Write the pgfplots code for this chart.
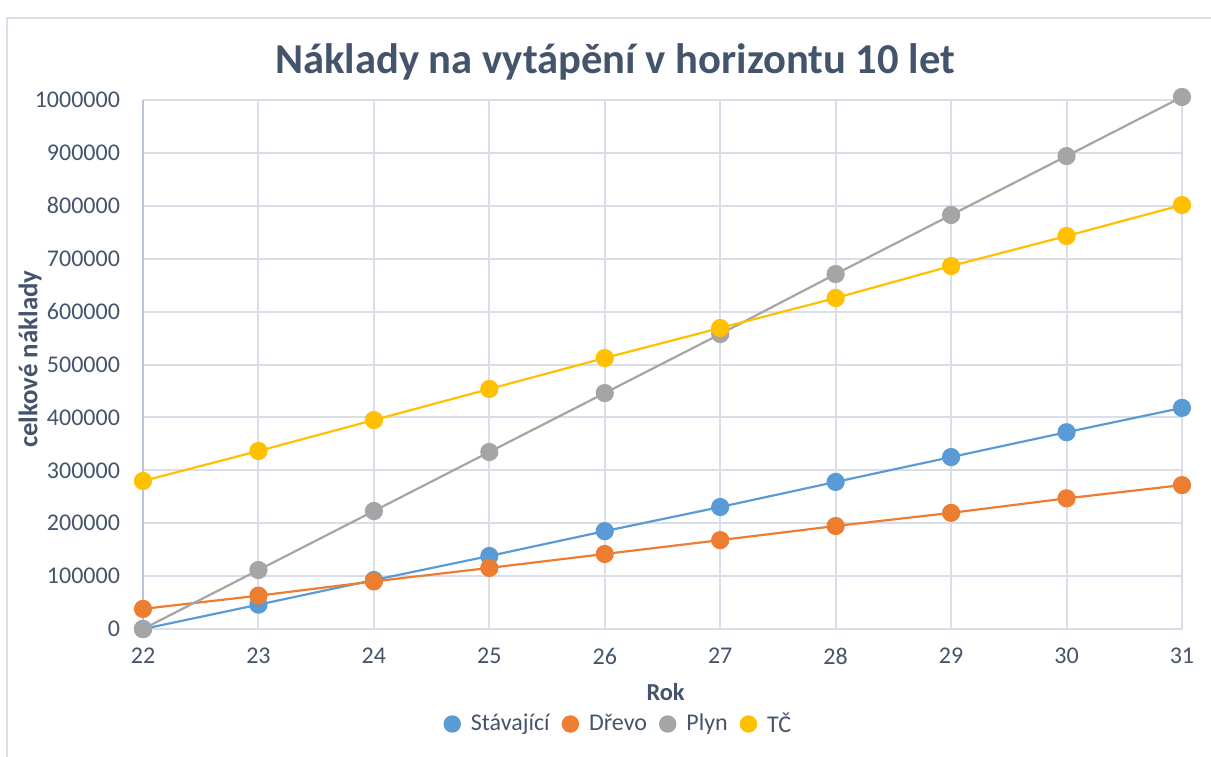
\documentclass[border=0pt]{standalone}
\usepackage{pgfplots}
\pgfplotsset{compat=1.18}
\usepackage{fontspec}
\setmainfont{Carlito}
\definecolor{txt}{RGB}{68,84,106}
\definecolor{gridc}{RGB}{217,222,232}
\definecolor{axc}{RGB}{185,196,212}
\definecolor{cA}{RGB}{91,155,213}
\definecolor{cB}{RGB}{237,125,49}
\definecolor{cC}{RGB}{165,165,165}
\definecolor{cD}{RGB}{255,192,0}
\begin{document}
\begin{tikzpicture}
\useasboundingbox (-71.5pt,-63.5pt) rectangle (534pt,314.5pt);
\draw[gridc, line width=1pt] (-68pt,-80pt) -- (-68pt,305.5pt) -- (560pt,305.5pt);
\begin{axis}[
  at={(0pt,0pt)}, anchor=south west,
  scale only axis, width=519.5pt, height=264.5pt,
  xmin=22, xmax=31, ymin=0, ymax=1000000,
  xtick={22,...,31},
  ytick={0,100000,...,1000000},
  scaled y ticks=false,
  yticklabel style={/pgf/number format/fixed,/pgf/number format/1000 sep={},/pgf/number format/assume math mode=true, font=\fontsize{12}{14}\selectfont, text=txt, xshift=-8pt},
  xticklabel style={/pgf/number format/assume math mode=true, font=\fontsize{12}{14}\selectfont, text=txt, yshift=-6pt},
  major tick length=0pt,
  grid=major,
  major grid style={gridc, line width=1pt},
  axis x line*=bottom, axis y line*=left,
  x axis line style={draw=none},
  y axis line style={axc, line width=1pt},
  clip=false,
  xlabel={\textbf{Rok}},
  xlabel style={font=\fontsize{12.2}{14}\selectfont, text=txt, at={(rel axis cs:0.503,0)}, anchor=center, yshift=-31.5pt},
  ylabel={\textbf{celkové náklady}},
  ylabel style={font=\fontsize{13.4}{16}\selectfont, text=txt, at={(axis description cs:-0.1088,0.51)}, anchor=center},
  legend columns=4,
  legend style={draw=none, fill=none, at={(0.4585,-0.1796)}, anchor=center, font=\fontsize{12}{14}\selectfont, text=txt, /tikz/every even column/.append style={column sep=4pt}},
  legend cell align=left,
  every axis plot/.append style={line width=1.1pt, mark=*, mark size=4pt},
  legend image code/.code={\fill[#1] (0pt,0pt) circle (3.8pt); \path (6.8pt,0pt);},
]
\addplot[color=cA] coordinates {(22,0) (23,46000) (24,92600) (25,138000) (26,185000) (27,230600) (28,278000) (29,325000) (30,372000) (31,418000)};
\addlegendentry{Stávající}
\addplot[color=cB] coordinates {(22,38000) (23,63000) (24,90000) (25,115500) (26,141800) (27,168000) (28,194700) (29,219500) (30,247000) (31,272000)};
\addlegendentry{Dřevo}
\addplot[color=cC] coordinates {(22,0) (23,111500) (24,223000) (25,334600) (26,446000) (27,557600) (28,671000) (29,782600) (30,894000) (31,1005700)};
\addlegendentry{Plyn}
\addplot[color=cD] coordinates {(22,279800) (23,336500) (24,395000) (25,453700) (26,512300) (27,569000) (28,625700) (29,686200) (30,742900) (31,801500)};
\addlegendentry{TČ}
\end{axis}
\node[text=txt, font=\bfseries\fontsize{21.3}{25}\selectfont] at (236pt,283.5pt) {Náklady na vytápění v horizontu 10 let};
\end{tikzpicture}
\end{document}
